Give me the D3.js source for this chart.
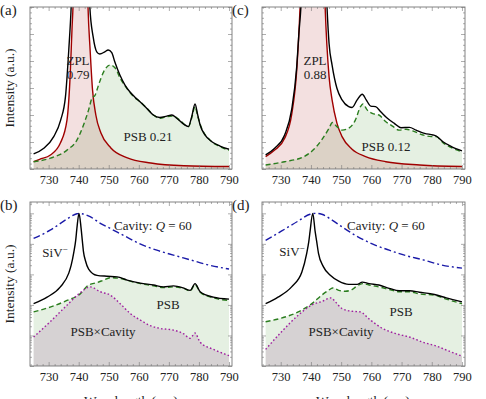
<!DOCTYPE html>
<html>
<head>
<meta charset="utf-8">
<script src="https://cdn.jsdelivr.net/npm/d3@7"></script>
<style>
  body { margin: 0; background: #fff; }
  text { font-family: "Liberation Serif", "DejaVu Serif", serif; fill: #222; }
</style>
</head>
<body>
<svg id="fig" width="486" height="399"></svg>
<script>
// ---- data (wavelength in nm, intensity in a.u.) ----
// (a) linear spectrum, emitter 1
const wlZplA = [725, 727, 730.6, 733.9, 736.1, 737.2, 737.8, 738.1, 739, 740.6, 742.2, 743.1, 743.8, 744.6, 745.7, 747.4, 750.7, 756.2, 764, 775, 790];
const zplA   = [0.27, 0.36, 0.52, 0.96, 1.81, 3.56, 5.26, 6.0, 11, 20, 11, 6.0, 4.41, 2.93, 2.0, 1.33, 0.78, 0.41, 0.22, 0.12, 0.09];
const wlTotA = [725, 728.4, 731.7, 734.0, 735.6, 736.7, 737.5, 738.6, 740.6, 742.6, 743.7, 744.8, 746.0, 747.0, 748.7, 749.8, 751.0, 752.0, 753.7, 755.4, 757.0, 758.7, 760.4, 762.6, 764.8, 767.0, 769.3, 771.0, 772.6, 774.8, 776.5, 777.6, 778.7, 779.6, 780.4, 782.0, 784.3, 787.0, 790];
const totA   = [0.56, 0.77, 1.20, 1.81, 2.68, 4.41, 6.01, 10, 20, 10, 6.01, 4.9, 4.34, 4.26, 4.34, 4.41, 4.31, 3.97, 3.48, 3.11, 2.86, 2.66, 2.49, 2.25, 2.0, 1.91, 1.96, 2.0, 1.88, 1.67, 1.57, 1.94, 2.41, 2.0, 1.63, 1.26, 1.01, 0.85, 0.73];
const wlPsbA = [725, 730.6, 736.1, 739.4, 741.6, 743.3, 744.4, 745.5, 746.6, 748.3, 750.5, 752.2, 753.8, 756.0, 758.3, 760.5, 762.7, 764.9, 767.1, 769.3, 771.5, 773.8, 776.5, 777.6, 778.7, 779.6, 780.9, 783.7, 787.0, 790];
const psbA   = [0.27, 0.40, 0.70, 1.07, 1.63, 2.19, 2.62, 2.74, 3.11, 3.60, 3.85, 3.73, 3.36, 2.99, 2.68, 2.49, 2.25, 2.0, 1.88, 1.94, 1.96, 1.79, 1.57, 1.89, 2.31, 1.95, 1.51, 1.07, 0.83, 0.69];

// (c) linear spectrum, emitter 2
const wlZplC = [725, 728, 731.3, 733.6, 735.3, 736.4, 738, 740.7, 743.3, 744.7, 746, 747, 748.6, 750.3, 753.6, 758.1, 764.8, 776, 790];
const zplC   = [0.46, 0.70, 1.14, 2.0, 3.67, 6.0, 12, 25, 12, 6.0, 3.42, 2.56, 1.70, 1.20, 0.73, 0.46, 0.27, 0.15, 0.09];
const wlTotC = [725, 728, 731.3, 733.6, 735.3, 736, 736.7, 738.3, 740.9, 743.6, 745.3, 746, 747, 748.6, 750.3, 752.5, 753.6, 755.3, 757, 758.3, 759.8, 761.4, 763.1, 765.3, 767.6, 769.8, 772.6, 774.8, 777.6, 780.4, 781.5, 783.7, 786.5, 790];
const totC   = [0.52, 0.77, 1.26, 2.19, 3.79, 5.0, 6.04, 12, 25, 12, 6.04, 4.65, 3.85, 2.99, 2.56, 2.31, 2.28, 2.56, 2.77, 2.56, 2.33, 2.31, 2.12, 1.88, 1.69, 1.53, 1.54, 1.44, 1.32, 1.26, 1.22, 1.01, 0.83, 0.67];
const wlPsbC = [725, 731.3, 737.7, 740.7, 743.5, 746, 747.1, 748.6, 750.3, 752.5, 754.7, 756.4, 757.2, 758.6, 760.3, 762.5, 764.8, 767, 769.2, 771.5, 773.7, 777.1, 779.8, 781.5, 783.7, 786.5, 790];
const psbC   = [0.15, 0.27, 0.46, 0.70, 1.07, 1.51, 1.72, 1.57, 1.44, 1.51, 1.81, 2.31, 2.41, 2.19, 2.06, 2.0, 1.75, 1.59, 1.44, 1.47, 1.41, 1.26, 1.20, 1.20, 0.97, 0.79, 0.63];

// (b) log spectrum with cavity, emitter 1
const wlCavB = [725, 730.5, 736.1, 739.4, 740.3, 741.1, 743.8, 747.2, 750.5, 754.9, 760.4, 766, 771.5, 777.1, 782.6, 790];
const cavB   = [0.15, 0.28, 0.65, 0.97, 1.0, 0.97, 0.78, 0.47, 0.32, 0.19, 0.10, 0.062, 0.043, 0.030, 0.021, 0.015];
const wlSivB = [725, 729.5, 733.9, 736.7, 737.5, 738.4, 739.0, 739.4, 740.1, 740.8, 741.2, 741.6, 742.2, 743.3, 746.1, 749.4, 752.8, 756.1, 760.5, 764.9, 768.2, 771.5, 774.8, 777.1, 778.7, 780.4, 784.8, 790];
const sivB   = [1.1e-3, 1.8e-3, 3.9e-3, 0.011, 0.020, 0.055, 0.13, 0.32, 1.0, 0.32, 0.13, 0.055, 0.029, 0.015, 9.3e-3, 8.7e-3, 8.3e-3, 6.5e-3, 5.2e-3, 4.5e-3, 3.9e-3, 4.2e-3, 3.6e-3, 3.0e-3, 5.0e-3, 2.7e-3, 1.8e-3, 1.55e-3];
const wlPsbB = [725, 730.5, 736.1, 740.5, 743.3, 746.1, 748.3, 750.5, 753.8, 757.2, 760.5, 764.9, 768.2, 771.5, 774.8, 777.1, 778.7, 780.4, 784.8, 790];
const psbB   = [5.9e-4, 8.5e-4, 1.4e-3, 2.3e-3, 4.5e-3, 5.4e-3, 6.5e-3, 7.8e-3, 7.4e-3, 6.0e-3, 5.0e-3, 4.2e-3, 3.7e-3, 3.9e-3, 3.5e-3, 2.9e-3, 4.7e-3, 2.6e-3, 1.7e-3, 1.4e-3];
const wlMixB = [725, 730.5, 736.1, 740.5, 743.8, 747.2, 750.5, 753.8, 757.2, 760.5, 763.8, 767.1, 771.5, 774.8, 777.1, 778.7, 780.4, 784.8, 790];
const mixB   = [8.9e-5, 2.8e-4, 9.8e-4, 2.5e-3, 3.9e-3, 2.7e-3, 2.1e-3, 1.1e-3, 5.2e-4, 3.2e-4, 2.1e-4, 1.7e-4, 1.5e-4, 1.15e-4, 8.1e-5, 1.2e-4, 6.0e-5, 3.5e-5, 2.2e-5];

// (d) log spectrum with cavity, emitter 2
const wlCavD = [725, 730.2, 735.8, 739.7, 741.4, 743.6, 747, 750.3, 754.7, 760.3, 765.9, 771.5, 777.1, 782.6, 790];
const cavD   = [0.13, 0.26, 0.56, 0.93, 1.0, 0.93, 0.60, 0.36, 0.19, 0.10, 0.062, 0.041, 0.030, 0.021, 0.016];
const wlSivD = [725, 729.1, 733.6, 737, 738.6, 739.3, 739.7, 740.6, 741.4, 741.9, 742.5, 744.1, 746.4, 749.2, 752.5, 755.3, 757, 759.2, 762.5, 765.9, 769.2, 772.6, 775.9, 780.9, 784.8, 790];
const sivD   = [1.1e-3, 1.8e-3, 3.9e-3, 0.012, 0.049, 0.12, 0.25, 1.0, 0.25, 0.12, 0.049, 0.018, 9.3e-3, 6.0e-3, 4.7e-3, 4.7e-3, 5.6e-3, 5.0e-3, 4.5e-3, 3.5e-3, 2.9e-3, 2.9e-3, 2.6e-3, 2.2e-3, 1.7e-3, 1.26e-3];
const wlPsbD = [725, 730.2, 735.8, 740.3, 743.6, 745.8, 747.2, 749.2, 751.4, 753.6, 755.3, 757, 759.2, 762.5, 765.9, 769.2, 772.6, 775.9, 780.9, 784.8, 790];
const psbD   = [2.8e-4, 3.7e-4, 5.9e-4, 1.1e-3, 2.1e-3, 3.0e-3, 3.6e-3, 3.0e-3, 2.8e-3, 3.2e-3, 4.2e-3, 5.0e-3, 4.5e-3, 3.9e-3, 3.2e-3, 2.7e-3, 2.7e-3, 2.3e-3, 2.1e-3, 1.55e-3, 1.1e-3];
const wlMixD = [725, 730.2, 735.8, 740.3, 743.6, 746.7, 748.1, 750.3, 753.6, 756.4, 759.2, 763.7, 768.1, 772.6, 777.1, 781.5, 786, 790];
const mixD   = [3.5e-5, 1.3e-4, 4.6e-4, 1.0e-3, 1.3e-3, 1.7e-3, 1.26e-3, 7.6e-4, 6.2e-4, 5.9e-4, 3.5e-4, 1.7e-4, 1.15e-4, 8.9e-5, 6.0e-5, 4.5e-5, 3.0e-5, 2.1e-5];

const xTicks = [730, 740, 750, 760, 770, 780, 790];

// ---- drawing ----
const svg = d3.select("#fig");
const zip = (xs, ys) => xs.map((x, i) => [x, ys[i]]);

function panel(opt) {
  const {id, left, top, width, height, log} = opt;
  const right = left + width, bottom = top + height;
  const x = d3.scaleLinear().domain([723.8, 791]).range([left, right]);
  const y = log
    ? d3.scaleLog().domain([1e-5, 2.35]).range([bottom, top])
    : d3.scaleLinear().domain([0, 6]).range([bottom, top]);

  svg.append("clipPath").attr("id", "clip-" + id)
    .append("rect").attr("x", left).attr("y", top).attr("width", width).attr("height", height);
  const g = svg.append("g").attr("clip-path", `url(#clip-${id})`);

  const line = d3.line().x(d => x(d[0])).y(d => y(d[1])).curve(d3.curveMonotoneX);
  const area = d3.area().x(d => x(d[0])).y0(bottom).y1(d => y(d[1])).curve(d3.curveMonotoneX);

  opt.fills.forEach(f => g.append("path").datum(f.data).attr("d", area).attr("fill", f.color));
  opt.lines.forEach(l => g.append("path").datum(l.data).attr("d", line)
    .attr("fill", "none").attr("stroke", l.color).attr("stroke-width", l.width || 1.4)
    .attr("stroke-dasharray", l.dash || null));

  // frame ticks, Mathematica style: inward on all four sides
  const minorX = d3.range(724, 791, 2).filter(v => v % 10 !== 0);
  let majorY, minorY;
  if (log) {
    majorY = [1e-5, 1e-4, 1e-3, 1e-2, 1e-1, 1];
    minorY = [];
    majorY.forEach(m => d3.range(2, 10).forEach(k => { if (m * k < 2.35) minorY.push(m * k); }));
  } else {
    majorY = [0, 1, 2, 3, 4, 5, 6];
    minorY = d3.range(0, 6.01, 0.2).filter(v => Math.abs(v - Math.round(v)) > 1e-6);
  }
  const axes = [
    [d3.axisBottom(x), `translate(0,${bottom})`, xTicks, minorX, true],
    [d3.axisTop(x), `translate(0,${top})`, xTicks, minorX, false],
    [d3.axisLeft(y), `translate(${left},0)`, majorY, minorY, false],
    [d3.axisRight(y), `translate(${right},0)`, majorY, minorY, false]
  ];
  axes.forEach(([ax, tr, maj, min, labels]) => {
    const gm = svg.append("g").attr("transform", tr)
      .call(ax.tickValues(min).tickSize(-2).tickFormat(""));
    gm.select(".domain").remove();
    const gM = svg.append("g").attr("transform", tr)
      .call(ax.tickValues(maj).tickSize(-4).tickPadding(6).tickFormat(labels ? d3.format("d") : ""));
    gM.select(".domain").remove();
    [gm, gM].forEach(s => s.selectAll("line").attr("stroke", "#777").attr("stroke-width", 0.6));
    gM.selectAll("text").attr("font-size", 12.5).attr("font-family", "Liberation Serif").attr("fill", "#222");
  });

  svg.append("rect").attr("x", left).attr("y", top).attr("width", width).attr("height", height)
    .attr("fill", "none").attr("stroke", "#777").attr("stroke-width", 0.9);

  svg.append("text").attr("x", left - 30).attr("y", top + 8).attr("font-size", 15).text(`(${id})`);

  opt.labels.forEach(t => {
    const el = svg.append("text").attr("x", t.x).attr("y", t.y)
      .attr("text-anchor", "middle").attr("font-size", 13);
    t.parts.forEach(p => {
      const s = el.append("tspan").text(p.t);
      if (p.it) s.attr("font-style", "italic");
      if (p.sup) s.attr("baseline-shift", "super").attr("font-size", 9);
    });
  });
  return {x, y};
}

const red = "#a00000", green = "#2a7d1e", blue = "#1a1aa8", purple = "#a020a0";
const fillRed = "rgba(160,0,0,0.12)", fillGreen = "rgba(40,130,20,0.12)", fillPurple = "rgba(110,0,110,0.12)";

panel({id: "a", left: 30, top: 7, width: 202, height: 162, log: false,
  fills: [{data: zip(wlPsbA, psbA), color: fillGreen}, {data: zip(wlZplA, zplA), color: fillRed}],
  lines: [{data: zip(wlZplA, zplA), color: red},
          {data: zip(wlPsbA, psbA), color: green, dash: "5,3"},
          {data: zip(wlTotA, totA), color: "#000"}],
  labels: [{x: 78, y: 65, parts: [{t: "ZPL"}]}, {x: 78, y: 79, parts: [{t: "0.79"}]},
           {x: 148, y: 141, parts: [{t: "PSB 0.21"}]}]});

panel({id: "c", left: 262, top: 7, width: 203, height: 162, log: false,
  fills: [{data: zip(wlPsbC, psbC), color: fillGreen}, {data: zip(wlZplC, zplC), color: fillRed}],
  lines: [{data: zip(wlZplC, zplC), color: red},
          {data: zip(wlPsbC, psbC), color: green, dash: "5,3"},
          {data: zip(wlTotC, totC), color: "#000"}],
  labels: [{x: 315, y: 65, parts: [{t: "ZPL"}]}, {x: 315, y: 79, parts: [{t: "0.88"}]},
           {x: 386, y: 151, parts: [{t: "PSB 0.12"}]}]});

panel({id: "b", left: 30, top: 202, width: 202, height: 164, log: true,
  fills: [{data: zip(wlPsbB, psbB), color: fillGreen}, {data: zip(wlMixB, mixB), color: fillPurple}],
  lines: [{data: zip(wlCavB, cavB), color: blue, dash: "7,3,2,3"},
          {data: zip(wlPsbB, psbB), color: green, dash: "5,3"},
          {data: zip(wlMixB, mixB), color: purple, dash: "1.6,2.2"},
          {data: zip(wlSivB, sivB), color: "#000"}],
  labels: [{x: 153, y: 230, parts: [{t: "Cavity:  "}, {t: "Q", it: true}, {t: " = 60"}]},
           {x: 55, y: 257, parts: [{t: "SiV"}, {t: "−", sup: true}]},
           {x: 168, y: 309, parts: [{t: "PSB"}]},
           {x: 103, y: 336, parts: [{t: "PSB×Cavity"}]}]});

panel({id: "d", left: 262, top: 202, width: 203, height: 164, log: true,
  fills: [{data: zip(wlPsbD, psbD), color: fillGreen}, {data: zip(wlMixD, mixD), color: fillPurple}],
  lines: [{data: zip(wlCavD, cavD), color: blue, dash: "7,3,2,3"},
          {data: zip(wlPsbD, psbD), color: green, dash: "5,3"},
          {data: zip(wlMixD, mixD), color: purple, dash: "1.6,2.2"},
          {data: zip(wlSivD, sivD), color: "#000"}],
  labels: [{x: 386, y: 230, parts: [{t: "Cavity:  "}, {t: "Q", it: true}, {t: " = 60"}]},
           {x: 292, y: 256, parts: [{t: "SiV"}, {t: "−", sup: true}]},
           {x: 401, y: 316, parts: [{t: "PSB"}]},
           {x: 341, y: 336, parts: [{t: "PSB×Cavity"}]}]});

// axis titles
[88, 284].forEach(cy => svg.append("text")
  .attr("transform", `translate(14,${cy}) rotate(-90)`)
  .attr("text-anchor", "middle").attr("font-size", 13.5).text("Intensity (a.u.)"));
[131, 363].forEach(cx => svg.append("text")
  .attr("x", cx).attr("y", 405).attr("text-anchor", "middle").attr("font-size", 13.5)
  .text("Wavelength (nm)"));
</script>
</body>
</html>
